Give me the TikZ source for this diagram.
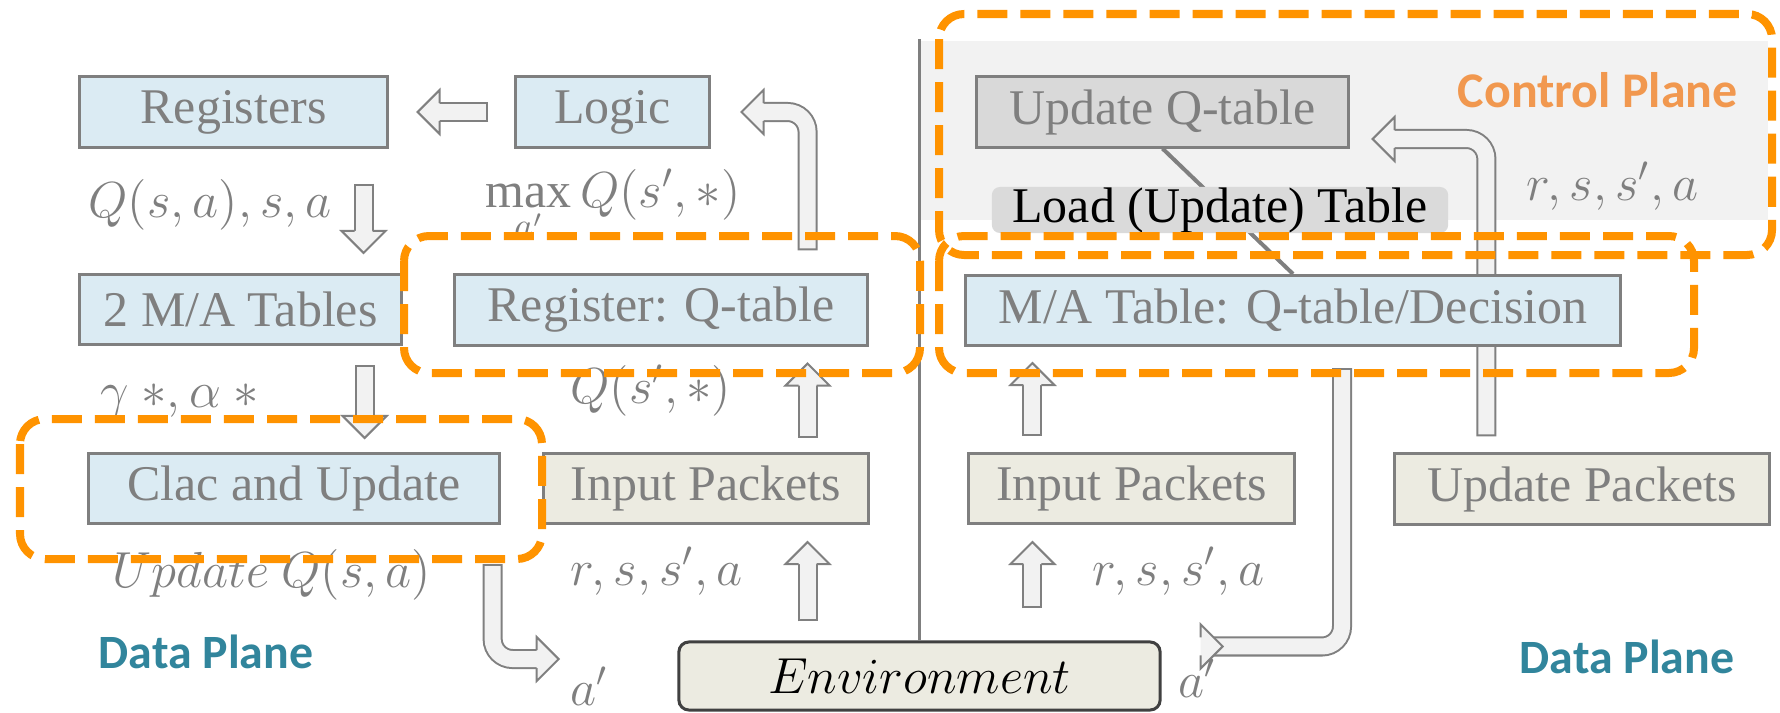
\documentclass[tikz,border=0pt]{standalone}
\usepackage{fontspec}
\setmainfont{Liberation Serif}
\newfontfamily\planefont{Carlito}
\usetikzlibrary{calc}

\definecolor{boxgray}{HTML}{7F7F7F}
\definecolor{labgray}{HTML}{7F7F7F}
\definecolor{boxblue}{HTML}{DBEBF3}
\definecolor{pktbeige}{HTML}{ECEBE1}
\definecolor{updgray}{HTML}{D9D9D9}
\definecolor{loadgray}{HTML}{DADADA}
\definecolor{ctrlbg}{HTML}{F2F2F2}
\definecolor{envgray}{HTML}{404040}
\definecolor{arrgray}{HTML}{808080}
\definecolor{arrfill}{HTML}{F2F2F2}
\definecolor{dashorange}{HTML}{FF9300}
\definecolor{ctrlorange}{HTML}{F1984F}
\definecolor{dataplane}{HTML}{31859C}

\newcommand\boxfont{\fontsize{14.2}{17}\selectfont}

\pgfdeclarelayer{bg}
\pgfdeclarelayer{arr}
\pgfsetlayers{bg,arr,main}

\tikzset{
  box/.style={draw=boxgray, line width=.03cm, minimum height=.7cm, inner sep=0pt, text=labgray, font=\boxfont},
  bluebox/.style={box, fill=boxblue},
  pktbox/.style={box, fill=pktbeige},
  lab/.style={text=labgray, font=\boxfont, inner sep=0pt, anchor=base west},
  plane/.style={font=\planefont\bfseries\fontsize{13.6}{16}\selectfont, inner sep=0pt, anchor=base west},
  shaftout/.style={draw=arrgray, line width=.2cm, rounded corners=.2cm},
  shaftin/.style={draw=arrfill, line width=.16cm, rounded corners=.2cm, shorten <=.02cm},
  headline/.style={draw=arrgray, fill=arrfill, line width=.02cm},
  dashbox/.style={draw=dashorange, line width=.08cm, dash pattern=on .3cm off .13cm, rounded corners=.25cm},
}

% hollow block arrows: tail, tip, back direction, side direction
\newcommand\blockarrow[4]{%
  \draw[shaftout] (#1) -- ($(#2)+20*(#3)$);
  \draw[shaftin] (#1) -- ($(#2)+20*(#3)$);
  \draw[headline] ($(#2)+22*(#3)+9*(#4)$) -- ($(#2)+22*(#3)+22*(#4)$) -- (#2)
    -- ($(#2)+22*(#3)-22*(#4)$) -- ($(#2)+22*(#3)-9*(#4)$);
}
\newcommand\blockhook[4]{%
  \draw[shaftout] (#1) -- (#1 |- #2) -- ($(#2)+20*(#3)$);
  \draw[shaftin] (#1) -- (#1 |- #2) -- ($(#2)+20*(#3)$);
  \draw[headline] ($(#2)+22*(#3)+9*(#4)$) -- ($(#2)+22*(#3)+22*(#4)$) -- (#2)
    -- ($(#2)+22*(#3)-22*(#4)$) -- ($(#2)+22*(#3)-9*(#4)$);
}

\begin{document}
\begin{tikzpicture}[x=0.01cm,y=-0.01cm]
\useasboundingbox (0,0) rectangle (1780,712);

% boxes
\node[bluebox, minimum width=3.07cm] (regs) at (233.5,112) {Registers};
\node[bluebox, minimum width=1.93cm] (logic) at (612.5,112) {Logic};
\node[box, fill=updgray, minimum width=3.71cm] (updQ) at (1162.5,112) {Update Q-table};
\node[bluebox, minimum width=3.21cm] (mat2) at (240.5,309.5) {2 M/A Tables};
\node[bluebox, minimum width=4.12cm] (regQ) at (661,310) {Register: Q-table};
\node[bluebox, minimum width=6.54cm] (maQ) at (1293,310.5) {M/A Table: Q-table/Decision};
\node[bluebox, minimum width=4.10cm] (clac) at (294,488.5) {Clac and Update};
\node[pktbox, minimum width=3.24cm] (inL) at (706,488.5) {Input Packets};
\node[pktbox, minimum width=3.25cm] (inR) at (1131.5,488.5) {Input Packets};
\node[pktbox, minimum width=3.74cm] (updP) at (1582,489) {Update Packets};
\node[draw=envgray, fill=pktbeige, line width=.03cm, rounded corners=.1cm, minimum width=4.81cm,
  minimum height=.68cm, inner sep=0pt, font=\boxfont] (env) at (919.5,676) {$Environment$};
\node[fill=loadgray, rounded corners=.08cm, minimum width=4.56cm, minimum height=.46cm,
  inner sep=0pt, font=\boxfont] (load) at (1220,210) {Load (Update) Table};

% labels
\node[lab] (lQsa) at (88,217) {$Q(s,a), s, a$};
\node[lab] (lmax) at (485,207) {$\max\limits_{a'} Q(s',*)$};
\node[lab] (lQs) at (570,403) {$Q(s',*)$};
\node[lab] (lga) at (100,407) {$\gamma\ {*}, \alpha\ {*}$};
\node[lab] (lupd) at (112,587) {$Update\ Q(s,a)$};
\node[lab] (lrsL) at (570,585) {$r, s, s', a$};
\node[lab] (lrsR) at (1092,585) {$r, s, s', a$};
\node[lab] (lrsC) at (1526,200) {$r, s, s', a$};
\node[lab] (aL) at (570,705) {$a'$};
\node[lab] (aR) at (1178,697) {$a'$};
\node[plane, text=dataplane] (dpL) at (98,668) {Data Plane};
\node[plane, text=dataplane] (dpR) at (1519,673) {Data Plane};
\node[plane, text=ctrlorange, font=\planefont\bfseries\boxfont] (cp) at (1457,107) {Control Plane};

\begin{pgfonlayer}{bg}
  \fill[ctrlbg] (920,41) rectangle (1768,220);
  \draw[boxgray, line width=.03cm] (env.north) -- ++(0,-601);
\end{pgfonlayer}

\begin{pgfonlayer}{arr}
  \draw[boxgray, line width=.04cm] (updQ.south) -- (maQ.north);
  % straight arrows
  \coordinate (t1) at ($(logic.west)+(-26,0)$);
  \coordinate (h1) at ($(regs.east)+(29,0)$);
  \blockarrow{t1}{h1}{1,0}{0,1}
  \coordinate (t2) at ($(regs.south east)+(-25,35)$);
  \coordinate (h2) at ($(t2 |- mat2.north)+(0,-20)$);
  \blockarrow{t2}{h2}{0,-1}{1,0}
  \coordinate (t3) at ($(mat2.south east)+(-38,19)$);
  \coordinate (h3) at ($(t3 |- clac.north)+(0,-14)$);
  \blockarrow{t3}{h3}{0,-1}{1,0}
  \coordinate (t4) at ($(inL.north east)+(-62,-14)$);
  \coordinate (h4) at ($(t4 |- regQ.south)+(0,17)$);
  \blockarrow{t4}{h4}{0,1}{1,0}
  \coordinate (t5) at ($(env.north -| t4)+(0,-19)$);
  \coordinate (h5) at ($(t4 |- inL.south)+(0,17)$);
  \blockarrow{t5}{h5}{0,1}{1,0}
  \coordinate (t8) at ($(inR.north west)+(65,-16)$);
  \coordinate (h8) at ($(t8 |- maQ.south)+(0,16)$);
  \blockarrow{t8}{h8}{0,1}{1,0}
  \coordinate (t9) at ($(env.north -| t8)+(0,-32)$);
  \coordinate (h9) at ($(t8 |- inR.south)+(0,17)$);
  \blockarrow{t9}{h9}{0,1}{1,0}
  % hooked arrows
  \coordinate (t6) at ($(t4 |- regQ.north)+(0,-23)$);
  \coordinate (h6) at ($(logic.east)+(31,0)$);
  \blockhook{t6}{h6}{1,0}{0,1}
  \coordinate (t7) at ($(clac.south east)+(-8,39)$);
  \coordinate (h7) at ($(clac.south east)+(58,134)$);
  \blockhook{t7}{h7}{-1,0}{0,1}
  \coordinate (t10) at ($(maQ.south)+(49,21)$);
  \coordinate (h10) at ($(env.north east)+(61,6)$);
  \blockhook{t10}{h10}{-1,0}{0,1}
  \coordinate (t11) at ($(updP.north west)+(93,-16)$);
  \coordinate (h11) at ($(updQ.east)+(23,27)$);
  \blockhook{t11}{h11}{1,0}{0,1}
\end{pgfonlayer}

% highlighted regions
\draw[dashbox] (939,14) rectangle (1772,255);
\draw[dashbox] (939,236) rectangle (1694,373);
\draw[dashbox] (404,236) rectangle (920,373);
\draw[dashbox] (20,419) rectangle (542,559);

\end{tikzpicture}
\end{document}
